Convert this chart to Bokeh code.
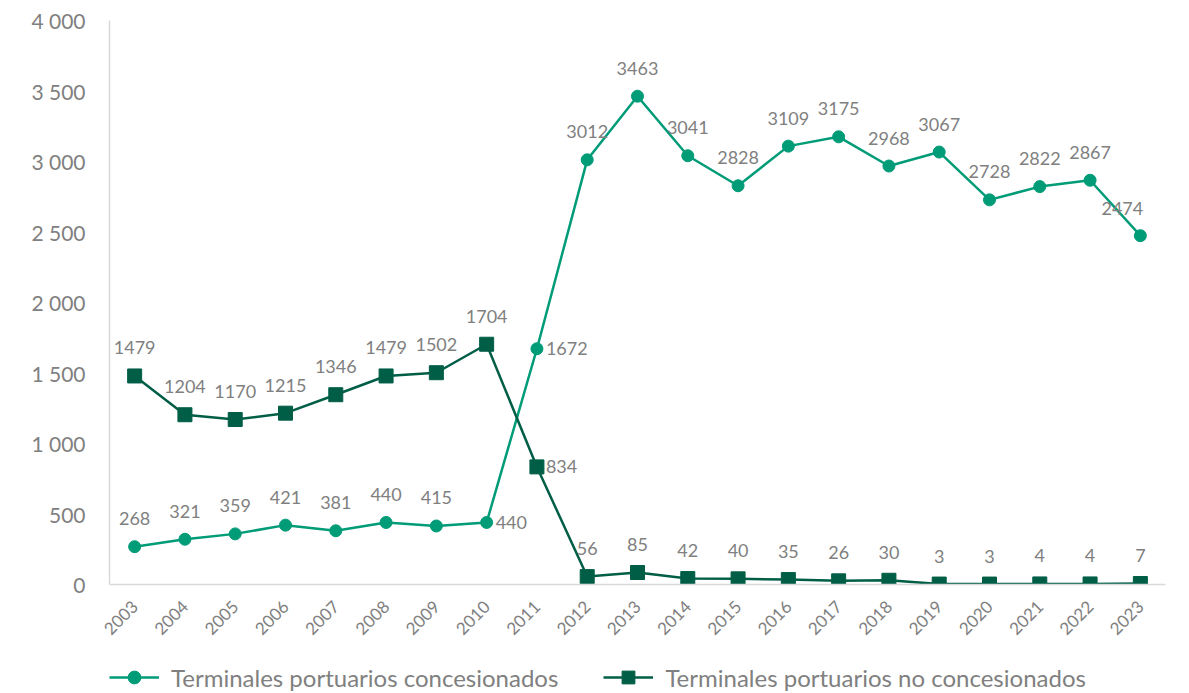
from bokeh.plotting import figure
from bokeh.models import ColumnDataSource, Range1d, FixedTicker, Legend, LegendItem
from bokeh.layouts import column
from bokeh.core.properties import value
from bokeh.embed import file_html
from bokeh.resources import INLINE
import math

years = [str(y) for y in range(2003, 2024)]
concesionados = [268, 321, 359, 421, 381, 440, 415, 440, 1672, 3012, 3463, 3041, 2828,
                 3109, 3175, 2968, 3067, 2728, 2822, 2867, 2474]
no_concesionados = [1479, 1204, 1170, 1215, 1346, 1479, 1502, 1704, 834, 56, 85, 42, 40,
                    35, 26, 30, 3, 3, 4, 4, 7]
y_ticks = [0, 500, 1000, 1500, 2000, 2500, 3000, 3500, 4000]
name_a = "Terminales portuarios concesionados"
name_b = "Terminales portuarios no concesionados"

C_A = "#009B77"
C_B = "#005E46"
GRAY = "#808080"
FONT = "Lato"

p = figure(width=1189, height=644, x_range=years, y_range=Range1d(0, 4000),
           output_backend="svg", toolbar_location=None,
           min_border_left=109, min_border_right=24, min_border_top=20, min_border_bottom=60)
p.outline_line_color = None
p.xgrid.grid_line_color = None
p.ygrid.grid_line_color = None
p.x_range.range_padding = 0

p.yaxis.ticker = FixedTicker(ticks=y_ticks)
p.yaxis.major_label_overrides = {t: f"{t:,}".replace(",", " ") for t in y_ticks}
for ax in (p.xaxis, p.yaxis):
    ax.axis_line_color = "#D9D9D9"
    ax.axis_line_width = 1.5
    ax.major_tick_line_color = None
    ax.minor_tick_line_color = None
    ax.major_label_text_color = GRAY
    ax.major_label_text_font = FONT
p.yaxis.major_label_text_font_size = "21px"
p.yaxis.major_label_standoff = 18
p.xaxis.major_label_text_font_size = "17px"
p.xaxis.major_label_orientation = math.pi / 4
p.xaxis.major_label_standoff = 13

src = ColumnDataSource(dict(x=years, a=concesionados, b=no_concesionados))
la = p.line("x", "a", source=src, line_color=C_A, line_width=2.5)
sa = p.scatter("x", "a", source=src, marker="circle", size=12, fill_color=C_A, line_color=C_A)
lb = p.line("x", "b", source=src, line_color=C_B, line_width=2.5)
sb = p.scatter("x", "b", source=src, marker="square", size=14, fill_color=C_B, line_color=C_B)

def offsets(n, right_idx, left_idx=()):
    xo, yo, al = [], [], []
    for i in range(n):
        if i in right_idx:
            xo.append(9); yo.append(0); al.append("left")
        elif i in left_idx:
            xo.append(-18); yo.append(-27); al.append("center")
        else:
            xo.append(0); yo.append(-28); al.append("center")
    return xo, yo, al

xo, yo, al = offsets(len(years), {7, 8}, {20})
lab_a = ColumnDataSource(dict(x=years, y=concesionados, t=[str(v) for v in concesionados],
                              xo=xo, yo=yo, al=al))
p.text("x", "y", text="t", source=lab_a, x_offset="xo", y_offset="yo", text_align="al",
       text_baseline="middle", text_color=GRAY, text_font=value(FONT), text_font_size="18px")

xo, yo, al = offsets(len(years), {8})
lab_b = ColumnDataSource(dict(x=years, y=no_concesionados, t=[str(v) for v in no_concesionados],
                              xo=xo, yo=yo, al=al))
p.text("x", "y", text="t", source=lab_b, x_offset="xo", y_offset="yo", text_align="al",
       text_baseline="middle", text_color=GRAY, text_font=value(FONT), text_font_size="18px")

# legend strip below the chart (proxy renderers lie outside the visible range)
q = figure(width=1189, height=49, x_range=Range1d(0, 1), y_range=Range1d(0, 1),
           output_backend="svg", toolbar_location=None, x_axis_type=None, y_axis_type=None,
           min_border=0)
q.outline_line_color = None
q.xgrid.grid_line_color = None
q.ygrid.grid_line_color = None
proxy = ColumnDataSource(dict(x=[5, 6], y=[5, 6]))
qla = q.line("x", "y", source=proxy, line_color=C_A, line_width=2.5)
qsa = q.scatter("x", "y", source=proxy, marker="circle", size=12, fill_color=C_A, line_color=C_A)
qlb = q.line("x", "y", source=proxy, line_color=C_B, line_width=2.5)
qsb = q.scatter("x", "y", source=proxy, marker="square", size=14, fill_color=C_B, line_color=C_B)

legend = Legend(items=[LegendItem(label=name_a, renderers=[qla, qsa]),
                       LegendItem(label=name_b, renderers=[qlb, qsb])],
                orientation="horizontal", location=(0, 0), padding=0, margin=0,
                spacing=45, glyph_width=50, glyph_height=32, label_standoff=12, label_height=24,
                label_text_font=FONT, label_text_font_size="24px", label_text_color=GRAY,
                background_fill_alpha=0, border_line_color=None)
q.add_layout(legend, "center")

layout = column(p, q, spacing=0)
open("out.html", "w").write(file_html(layout, INLINE))
